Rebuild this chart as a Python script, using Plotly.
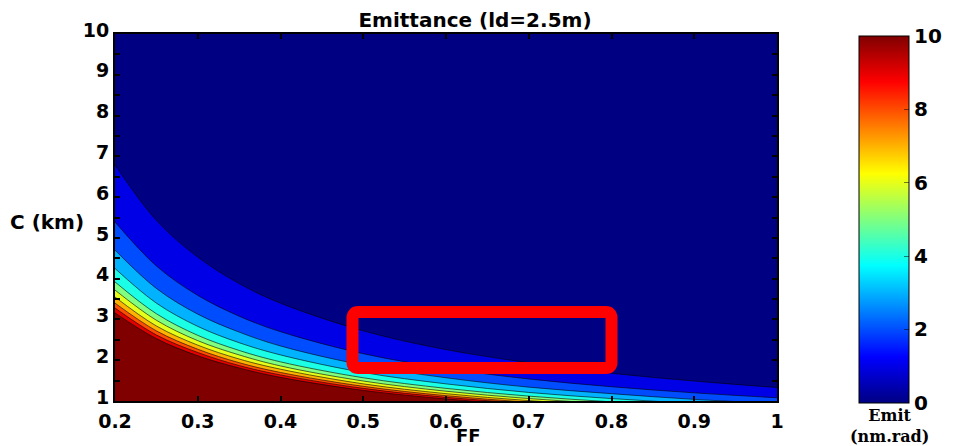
import plotly.graph_objects as go

# ---- data ----
# FF positions at which the level boundaries were read
FF_POINTS = [0.2, 0.25, 0.3, 0.35, 0.4, 0.5, 0.6, 0.7, 0.8, 0.9, 1.0]
# emittance levels (nm.rad) of the contour boundaries
LEVELS = [1, 2, 3, 4, 5, 6, 7, 8, 9, 10]
# C (km) at which each level boundary crosses each FF position
C_L1 = [6.79, 5.43, 4.53, 3.88, 3.40, 2.72, 2.26, 1.94, 1.68, 1.49, 1.33]
C_L2 = [5.39, 4.31, 3.59, 3.08, 2.70, 2.16, 1.80, 1.54, 1.35, 1.20, 1.08]
C_L3 = [4.70, 3.76, 3.13, 2.69, 2.35, 1.88, 1.57, 1.34, 1.18, 1.04, 0.94]
C_L4 = [4.25, 3.40, 2.83, 2.43, 2.13, 1.70, 1.42, 1.21, 1.06, 0.94, 0.85]
C_L5 = [3.92, 3.14, 2.61, 2.24, 1.96, 1.57, 1.31, 1.12, 0.98, 0.87, 0.78]
C_L6 = [3.72, 2.98, 2.48, 2.13, 1.86, 1.49, 1.24, 1.06, 0.93, 0.83, 0.74]
C_L7 = [3.55, 2.84, 2.37, 2.03, 1.78, 1.42, 1.18, 1.01, 0.89, 0.79, 0.71]
C_L8 = [3.40, 2.72, 2.27, 1.94, 1.70, 1.36, 1.13, 0.97, 0.85, 0.76, 0.68]
C_L9 = [3.28, 2.62, 2.19, 1.87, 1.64, 1.31, 1.09, 0.94, 0.82, 0.73, 0.66]
C_L10 = [3.16, 2.53, 2.11, 1.81, 1.58, 1.26, 1.05, 0.90, 0.79, 0.70, 0.63]
BOUNDARIES = [C_L1, C_L2, C_L3, C_L4, C_L5, C_L6, C_L7, C_L8, C_L9, C_L10]

X_TICKS = [0.2, 0.3, 0.4, 0.5, 0.6, 0.7, 0.8, 0.9, 1.0]
X_TICKTEXT = ["0.2", "0.3", "0.4", "0.5", "0.6", "0.7", "0.8", "0.9", "1"]
Y_TICKS = [1, 2, 3, 4, 5, 6, 7, 8, 9, 10]
CB_TICKS = [0, 2, 4, 6, 8, 10]

# highlighted region (FF from/to, C from/to)
RECT = [0.487, 0.800, 1.81, 3.18]

# ---- style ----
ZMIN, ZMAX = 0, 10
JET = [[0.0, "rgb(0,0,131)"], [0.125, "rgb(0,0,255)"], [0.375, "rgb(0,255,255)"],
       [0.625, "rgb(255,255,0)"], [0.875, "rgb(255,0,0)"], [1.0, "rgb(128,0,0)"]]


def jet(t):
    def c(v):
        return max(0.0, min(1.0, v))
    r = c(1.5 - abs(4 * t - 3))
    g = c(1.5 - abs(4 * t - 2))
    b = c(1.5 - abs(4 * t - 1))
    return "rgb(%d,%d,%d)" % (round(r * 255), round(g * 255), round(b * 255))


SANS = "DejaVu Sans"
SERIF = "DejaVu Serif"

fig = go.Figure()

# filled bands: region below each boundary gets the colour of its band
for lvl, cvals in zip(LEVELS, BOUNDARIES):
    fig.add_trace(go.Scatter(
        x=FF_POINTS, y=cvals, mode="lines",
        line=dict(color="rgba(0,0,0,0.85)", width=0.7, shape="spline", smoothing=1.0),
        fill="tozeroy", fillcolor=jet((lvl - ZMIN) / (ZMAX - ZMIN)),
        hoverinfo="skip", showlegend=False,
    ))

# continuous colour bar
fig.add_trace(go.Scatter(
    x=[0.6], y=[5], mode="markers", hoverinfo="skip", showlegend=False,
    marker=dict(size=1, opacity=0, color=[0], colorscale=JET, cmin=ZMIN, cmax=ZMAX,
                showscale=True,
                colorbar=dict(
                    thicknessmode="pixels", thickness=50,
                    lenmode="pixels", len=367,
                    x=(868 - 115) / 670, xanchor="left", xpad=0,
                    y=-0.005, yanchor="bottom", ypad=0,
                    outlinewidth=1, outlinecolor="black",
                    tickvals=CB_TICKS, ticks="inside", ticklen=5,
                    tickcolor="rgba(0,0,0,0.5)",
                    tickfont=dict(family=SANS, size=20, color="black", weight="bold"),
                )),
))

# red highlight rectangle with rounded outer corners
x0, x1, y0, y1 = RECT
rx = 6 / 670 * 0.8
ry = 6 / 367 * 9
path = (f"M {x0 + rx},{y0} L {x1 - rx},{y0} Q {x1},{y0} {x1},{y0 + ry} "
        f"L {x1},{y1 - ry} Q {x1},{y1} {x1 - rx},{y1} "
        f"L {x0 + rx},{y1} Q {x0},{y1} {x0},{y1 - ry} "
        f"L {x0},{y0 + ry} Q {x0},{y0} {x0 + rx},{y0} Z")
fig.add_shape(type="path", path=path, xref="x", yref="y",
              line=dict(color="rgb(255,0,0)", width=12))

axis_common = dict(
    showgrid=False, zeroline=False, showline=True, linecolor="black", linewidth=2,
    mirror="ticks", ticks="inside", ticklen=5, tickcolor="black", tickwidth=1.5,
    tickfont=dict(family=SANS, size=19, color="black", weight="bold"),
)

fig.update_layout(
    width=960, height=446,
    margin=dict(l=115, r=175, t=34, b=45),
    paper_bgcolor="white", plot_bgcolor="rgb(0,0,131)",
    showlegend=False,
    title=dict(text="Emittance (ld=2.5m)", x=475 / 960, xanchor="center",
               y=1 - 20 / 446, yanchor="middle",
               font=dict(family=SANS, size=20, color="black", weight="bold")),
    xaxis=dict(range=[0.2, 1.0], tickvals=X_TICKS, ticktext=X_TICKTEXT,
               ticklabelstandoff=2, **axis_common),
    yaxis=dict(range=[1, 10], tickvals=Y_TICKS, ticklabelshift=-4,
               minor=dict(dtick=0.5, ticks="inside", ticklen=5, tickcolor="black"),
               **axis_common),
    annotations=[
        dict(text="C (km)", xref="paper", yref="paper", x=(7 - 115) / 670, y=0.488,
             xanchor="left", yanchor="middle", showarrow=False,
             font=dict(family=SANS, size=20, color="black", weight="bold")),
        dict(text="FF", xref="paper", yref="paper", x=(473 - 115) / 670,
             y=(401 - 435) / 367, xanchor="center", yanchor="middle", showarrow=False,
             font=dict(family=SANS, size=18, color="black", weight="bold")),
        dict(text="Emit<br>(nm.rad)", xref="paper", yref="paper", x=(899 - 115) / 670,
             y=(401 - 426) / 367, xanchor="center", yanchor="middle", showarrow=False,
             align="center",
             font=dict(family=SERIF, size=16, color="black", weight="bold")),
    ],
)

fig.write_html("out.html")
